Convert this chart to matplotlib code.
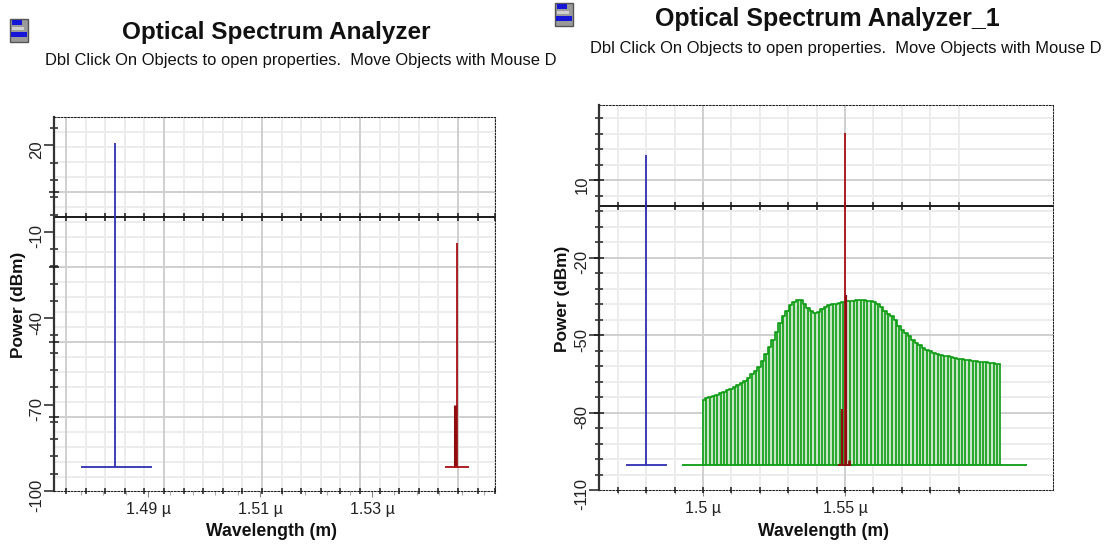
import matplotlib
matplotlib.use("Agg")
import matplotlib.pyplot as plt
from matplotlib.patches import Rectangle
from matplotlib.transforms import ScaledTranslation

plt.rcParams['font.family'] = ['Liberation Sans', 'DejaVu Sans']

W, H = 1111, 544

# ---- left panel data
left_title = "Optical Spectrum Analyzer"
right_title = "Optical Spectrum Analyzer_1"
subtitle = "Dbl Click On Objects to open properties.  Move Objects with Mouse D"
x_label = "Wavelength (m)"
y_label = "Power (dBm)"

left_xlim = (1.47321, 1.55196)
left_ylim = (-100, 30)
left_yticks = [20, -10, -40, -70, -100]
left_yticklabels = ["20", "-10", "-40", "-70", "-100"]
left_yminor = [26, 14, 8, 2, -4, -16, -22, -28, -34, -46, -52, -58, -64, -76, -82, -88, -94]
left_xticks = [1.49, 1.51, 1.53]
left_xticklabels = ["1.49 µ", "1.51 µ", "1.53 µ"]
left_xminor = [1.478, 1.482, 1.486, 1.494, 1.498, 1.502, 1.506, 1.514, 1.518, 1.522, 1.526,
               1.534, 1.538, 1.542, 1.546, 1.55]
left_grid_x_major = [1.47536, 1.49286, 1.51036, 1.52786, 1.54536]
left_grid_x_minor = [1.47886, 1.48236, 1.48586, 1.48936, 1.49636, 1.49986, 1.50336, 1.50686,
                     1.51386, 1.51736, 1.52086, 1.52436, 1.53136, 1.53486, 1.53836, 1.54186,
                     1.54886, 1.55196]
left_grid_y_major = [3.7, -22.3, -48.3, -74.3]
left_grid_y_minor = [29.7, 24.5, 19.3, 14.1, 8.9, -1.5, -6.7, -11.9, -17.1, -27.5, -32.7, -37.9,
                     -43.1, -53.5, -58.7, -63.9, -69.1, -79.5, -84.7, -89.9, -95.1]
left_zero = -5
left_blue = dict(x=1.4841, top=20.7, base=-91.5, left=1.4780, right=1.4907)
left_red = dict(x=1.5451, top=-14.0, thick_top=-70.0, base=-91.5, left=1.5430, right=1.5473)

# ---- right panel data
right_xlim = (1.46338, 1.62324)
right_ylim = (-110, 39.2)
right_yticks = [10, -20, -50, -80, -110]
right_yticklabels = ["10", "-20", "-50", "-80", "-110"]
right_yminor = [34, 28, 22, 16, 4, -2, -8, -14, -26, -32, -38, -44, -56, -62, -68, -74,
                -86, -92, -98, -104]
right_xticks = [1.5, 1.55]
right_xticklabels = ["1.5 µ", "1.55 µ"]
right_xminor = [1.47, 1.48, 1.49, 1.51, 1.52, 1.53, 1.54, 1.56, 1.57, 1.58, 1.59]
right_grid_x_major = [1.5, 1.55]
right_grid_x_minor = [1.47, 1.48, 1.49, 1.51, 1.52, 1.53, 1.54, 1.56, 1.57, 1.58, 1.59]
right_grid_y_major = [10, -20, -50, -80]
right_grid_y_minor = [34, 28, 22, 16, 4, -2, -8, -14, -26, -32, -38, -44, -56, -62, -68, -74,
                      -86, -92, -98, -104]
right_zero = 0
right_blue = dict(x=1.4801, top=19.9, base=-100.2, left=1.4730, right=1.4873)
right_red = dict(x=1.5499, top=28.3, mid_top=-34.6, thick_top=-78.5, base=-100.2,
                 left=1.5475, right=1.5521, side=1.5515, side_top=-98.5)

noise_floor = -100.3
noise_left = 1.4925
noise_right = 1.6141

wavelengths = [
    1.5000, 1.5012, 1.5025, 1.5037, 1.5049, 1.5062, 1.5074, 1.5086, 1.5099, 1.5111,
    1.5123, 1.5136, 1.5148, 1.5160, 1.5173, 1.5185, 1.5197, 1.5210, 1.5222, 1.5234,
    1.5246, 1.5259, 1.5271, 1.5283, 1.5296, 1.5308, 1.5320, 1.5333, 1.5345, 1.5357,
    1.5370, 1.5382, 1.5394, 1.5407, 1.5419, 1.5431, 1.5444, 1.5456, 1.5468, 1.5481,
    1.5493, 1.5505, 1.5518, 1.5530, 1.5542, 1.5555, 1.5567, 1.5579, 1.5592, 1.5604,
    1.5616, 1.5629, 1.5641, 1.5653, 1.5666, 1.5678, 1.5690, 1.5702, 1.5715, 1.5727,
    1.5739, 1.5752, 1.5764, 1.5776, 1.5789, 1.5801, 1.5813, 1.5826, 1.5838, 1.5850,
    1.5863, 1.5875, 1.5887, 1.5900, 1.5912, 1.5924, 1.5937, 1.5949, 1.5961, 1.5974,
    1.5986, 1.5998, 1.6011, 1.6023, 1.6035, 1.6047]
power_dbm = [
    -75.0, -74.4, -74.0, -73.4, -73.0, -72.5, -72.0, -71.4, -70.8, -70.2,
    -69.5, -68.7, -67.7, -66.5, -65.2, -63.8, -62.5, -60.2, -57.2, -54.6,
    -51.9, -48.7, -45.2, -42.4, -40.8, -38.4, -37.0, -36.2, -36.4, -37.8,
    -39.6, -40.8, -41.3, -41.0, -40.0, -39.0, -38.5, -38.1, -37.9, -37.4,
    -37.1, -36.9, -36.9, -36.8, -36.5, -36.3, -36.3, -36.6, -36.9, -37.3,
    -37.9, -39.0, -40.6, -41.7, -42.7, -44.2, -46.5, -48.0, -49.0, -50.5,
    -51.9, -53.0, -54.0, -54.8, -55.6, -56.3, -56.8, -57.3, -57.5, -57.9,
    -58.1, -58.5, -58.9, -59.1, -59.3, -59.6, -59.8, -60.0, -60.2, -60.3,
    -60.5, -60.5, -60.7, -60.9, -61.0, -61.0]

BLUE = "#2f2fb0"
RED = "#a80f14"
DARK_RED = "#8e0d10"
GREEN = "#0c9c12"
PALE_GREEN = "#c9e6c9"
GRID_L = "#ececec"
GRID_D = "#cfcfcf"
SPINE = "#333333"
TXT = "#222222"

fig = plt.figure(figsize=(W / 100, H / 100), dpi=100, facecolor="white")


def make_axes(x0, x1, ytop, ybot):
    return fig.add_axes([x0 / W, 1 - ybot / H, (x1 - x0) / W, (ybot - ytop) / H])


def style(ax, xlim, ylim, gxmaj, gxmin, gymaj, gymin, xt, xtl, xm, yt, ytl, ym, zero):
    ax.set_xlim(*xlim)
    ax.set_ylim(*ylim)
    ax.vlines(gxmin, ylim[0], ylim[1], color=GRID_L, lw=1.4, zorder=1)
    ax.hlines(gymin, xlim[0], xlim[1], color=GRID_L, lw=1.4, zorder=1)
    ax.vlines(gxmaj, ylim[0], ylim[1], color=GRID_D, lw=1.4, zorder=1.1)
    ax.hlines(gymaj, xlim[0], xlim[1], color=GRID_D, lw=1.4, zorder=1.1)
    ax.axhline(zero, color="#1a1a1a", lw=1.4, zorder=2)
    all_gx = list(gxmaj) + list(gxmin)
    ax.plot(all_gx, [zero] * len(all_gx), ls="none", marker="|", ms=6, mew=1.1,
            color="#1a1a1a", zorder=2)
    ax.plot(all_gx, [ylim[0]] * len(all_gx), ls="none", marker="|", ms=4, mew=1.1,
            color="#1a1a1a", zorder=5, clip_on=False)
    ax.plot([xlim[0]] * len(gymaj), gymaj, ls="none", marker="_", ms=7, mew=1.1,
            color="#1a1a1a", zorder=5, clip_on=False)
    ax.set_xticks(xt, xtl)
    ax.set_xticks(xm, minor=True)
    ax.set_yticks(yt, ytl)
    ax.set_yticks(ym, minor=True)
    ax.tick_params(axis="x", which="major", length=4, width=0.8, color="#888888", pad=4,
                   labelsize=11.5, labelcolor=TXT)
    ax.tick_params(axis="x", which="minor", length=3, width=0.8, color="#aaaaaa")
    ax.tick_params(axis="y", which="major", length=7, width=1.2, color=SPINE, pad=0,
                   labelsize=12, labelcolor=TXT)
    ax.tick_params(axis="y", which="minor", length=6, width=1.2, color=SPINE, direction="inout")
    shift = ScaledTranslation(0, -3.2 / 72, fig.dpi_scale_trans)
    for lab in ax.get_yticklabels():
        lab.set_rotation(90)
        lab.set_va("center")
        lab.set_transform(lab.get_transform() + shift)
    for name in ("top", "right", "bottom"):
        ax.spines[name].set_linestyle((0, (1.6, 1.6)))
        ax.spines[name].set_linewidth(0.75)
        ax.spines[name].set_color("#222222")
    ax.spines["left"].set_linewidth(1.6)
    ax.spines["left"].set_color(SPINE)


# left panel
axL = make_axes(54, 495, 116.6, 491)
style(axL, left_xlim, left_ylim, left_grid_x_major, left_grid_x_minor, left_grid_y_major,
      left_grid_y_minor, left_xticks, left_xticklabels, left_xminor, left_yticks,
      left_yticklabels, left_yminor, left_zero)
axL.vlines(left_blue["x"], left_blue["base"], left_blue["top"], color=BLUE, lw=1.3, zorder=4)
axL.hlines(left_blue["base"], left_blue["left"], left_blue["right"], color=BLUE, lw=1.3, zorder=4)
axL.vlines(left_red["x"], left_red["base"], left_red["top"], color=RED, lw=1.3, zorder=4)
axL.vlines(left_red["x"] - 0.00025, left_red["base"], left_red["thick_top"], color=DARK_RED,
           lw=2.2, zorder=4)
axL.hlines(left_red["base"], left_red["left"], left_red["right"], color=RED, lw=1.3, zorder=4)

# right panel
axR = make_axes(599, 1053, 105, 490)
style(axR, right_xlim, right_ylim, right_grid_x_major, right_grid_x_minor, right_grid_y_major,
      right_grid_y_minor, right_xticks, right_xticklabels, right_xminor, right_yticks,
      right_yticklabels, right_yminor, right_zero)
axR.hlines(noise_floor, noise_left, noise_right, color=GREEN, lw=1.3, zorder=3)
axR.fill_between(wavelengths, power_dbm, noise_floor, step="mid", color=PALE_GREEN, lw=0, zorder=2.5)
axR.vlines(wavelengths, noise_floor, power_dbm, color=GREEN, lw=1.2, zorder=3)
axR.step(wavelengths, power_dbm, where="mid", color=GREEN, lw=1.2, zorder=3)
axR.vlines(right_blue["x"], right_blue["base"], right_blue["top"], color=BLUE, lw=1.3, zorder=4)
axR.hlines(right_blue["base"], right_blue["left"], right_blue["right"], color=BLUE, lw=1.3, zorder=4)
axR.vlines(right_red["x"], right_red["base"], right_red["top"], color=RED, lw=1.3, zorder=4)
axR.vlines(right_red["x"] + 0.0003, right_red["base"], right_red["mid_top"], color=DARK_RED,
           lw=1.6, zorder=4)
axR.vlines(right_red["x"] - 0.0008, right_red["base"], right_red["thick_top"], color=DARK_RED,
           lw=1.6, zorder=4)
axR.vlines(right_red["side"], right_red["base"], right_red["side_top"], color=DARK_RED,
           lw=2.0, zorder=4)
axR.hlines(right_red["base"], right_red["left"], right_red["right"], color=DARK_RED, lw=1.3, zorder=4)

# text and icons in pixel coordinates
ov = fig.add_axes([0, 0, 1, 1], facecolor="none")
ov.set_xlim(0, W)
ov.set_ylim(H, 0)
ov.axis("off")


def icon(x, y):
    ov.add_patch(Rectangle((x, y), 18, 23, fc="#9a9a9a", ec="#555555", lw=1))
    ov.add_patch(Rectangle((x + 2, y + 1), 10, 5, fc="#1515d8", ec="none"))
    ov.add_patch(Rectangle((x + 1, y + 13), 16, 5, fc="#1515d8", ec="none"))
    ov.add_patch(Rectangle((x + 2, y + 8), 12, 3, fc="#cfcfcf", ec="none"))


icon(10, 19)
icon(555, 3)
ov.text(276.5, 32, left_title, fontsize=17.5, fontweight="bold", color="#111111",
        ha="center", va="center")
ov.text(827.5, 19, right_title, fontsize=18, fontweight="bold", color="#111111",
        ha="center", va="center")
ov.text(45, 60, subtitle, fontsize=11.9, color="#111111", va="center", ha="left")
ov.text(590, 48, subtitle, fontsize=11.9, color="#111111", va="center", ha="left")
ov.text(272, 531, x_label, fontsize=12.7, fontweight="bold", color="#111111", ha="center", va="center")
ov.text(823, 531, x_label, fontsize=12.7, fontweight="bold", color="#111111", ha="center", va="center")
ov.text(19, 305, y_label, fontsize=12.4, fontweight="bold", color="#111111", ha="center",
        va="center", rotation=90)
ov.text(562, 299, y_label, fontsize=12.4, fontweight="bold", color="#111111", ha="center",
        va="center", rotation=90)

fig.savefig("out.png", dpi=100)
